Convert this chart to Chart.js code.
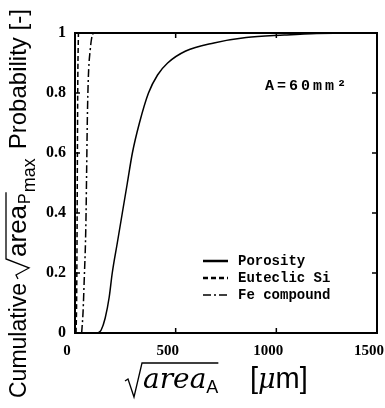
<!DOCTYPE html>
<html>
<head>
<meta charset="utf-8">
<script src="https://cdn.jsdelivr.net/npm/chart.js@4/dist/chart.umd.min.js"></script>
<style>
  html, body { margin: 0; padding: 0; background: #fff; }
  #wrap { width: 385px; height: 408px; position: relative; }
</style>
</head>
<body>
<div id="wrap"><canvas id="c" width="385" height="408"></canvas></div>
<script>
// ---- data ----
const porosityX = [115, 130, 150, 170, 185, 210, 235, 260, 285, 320, 365, 410, 460, 550, 690, 850, 1040, 1200, 1500];
const porosityY = [0, 0.01, 0.05, 0.12, 0.2, 0.3, 0.4, 0.5, 0.6, 0.7, 0.8, 0.86, 0.9, 0.94, 0.967, 0.985, 0.993, 0.998, 1];
const siX = [5, 8, 10, 12, 14, 17];
const siY = [0, 0.1, 0.3, 0.6, 0.85, 1];
const feX = [33, 40, 47, 52, 55, 58, 61, 64, 68, 75, 82, 90];
const feY = [0, 0.07, 0.2, 0.3, 0.4, 0.55, 0.7, 0.8, 0.88, 0.94, 0.98, 1];
const seriesNames = ['Porosity', 'Euteclic Si', 'Fe compound'];
const xTicks = [0, 500, 1000, 1500];
const yTicks = [0, 0.2, 0.4, 0.6, 0.8, 1];
const annotationText = 'A=60mm²';

const toPts = (xs, ys) => xs.map((x, i) => ({ x: x, y: ys[i] }));

const datasets = [
  { label: seriesNames[0], data: toPts(porosityX, porosityY), borderDash: [], legendWidth: 2.5 },
  { label: seriesNames[1], data: toPts(siX, siY), borderDash: [5, 3], legendWidth: 2.5 },
  { label: seriesNames[2], data: toPts(feX, feY), borderDash: [8, 3, 2, 3], legendWidth: 1.5 }
].map(d => Object.assign({
  borderColor: '#000', borderWidth: 1.5, pointRadius: 0, fill: false,
  cubicInterpolationMode: 'monotone', showLine: true
}, d));

const framePlugin = {
  id: 'frame',
  afterDatasetsDraw(chart) {
    const { ctx, chartArea: a, scales } = chart;
    ctx.save();
    ctx.strokeStyle = '#000';
    ctx.lineWidth = 2;
    ctx.strokeRect(a.left, a.top, a.right - a.left, a.bottom - a.top);
    ctx.lineWidth = 1.5;
    ctx.beginPath();
    xTicks.slice(1, -1).forEach(v => {
      const px = scales.x.getPixelForValue(v);
      ctx.moveTo(px, a.bottom); ctx.lineTo(px, a.bottom - 5);
      ctx.moveTo(px, a.top); ctx.lineTo(px, a.top + 5);
    });
    yTicks.slice(1, -1).forEach(v => {
      const py = scales.y.getPixelForValue(v);
      ctx.moveTo(a.left, py); ctx.lineTo(a.left + 5, py);
      ctx.moveTo(a.right, py); ctx.lineTo(a.right - 5, py);
    });
    ctx.stroke();

    // annotation
    ctx.fillStyle = '#000';
    ctx.font = 'bold 15px "Liberation Mono"';
    ctx.textBaseline = 'middle';
    ctx.textAlign = 'left';
    if ('letterSpacing' in ctx) ctx.letterSpacing = '3px';
    ctx.fillText(annotationText, 265, 86);
    if ('letterSpacing' in ctx) ctx.letterSpacing = '0px';

    // legend
    ctx.font = 'bold 14px "Liberation Mono"';
    chart.data.datasets.forEach((ds, i) => {
      const y = 261 + i * 17;
      ctx.beginPath();
      ctx.setLineDash(ds.borderDash || []);
      ctx.lineWidth = ds.legendWidth;
      ctx.moveTo(203, y); ctx.lineTo(228, y);
      ctx.stroke();
      ctx.setLineDash([]);
      ctx.fillText(ds.label, 238, y);
    });
    ctx.restore();
  },
  afterDraw(chart) {
    const ctx = chart.ctx;
    ctx.save();
    ctx.fillStyle = '#000';
    ctx.strokeStyle = '#000';
    ctx.textBaseline = 'alphabetic';
    ctx.textAlign = 'left';

    // ---- y title (rotated) ----
    ctx.translate(26, 398);
    ctx.rotate(-Math.PI / 2);
    let u = 0;
    ctx.font = '23px "Liberation Sans"';
    ctx.fillText('Cumulative', u, 0);
    u += ctx.measureText('Cumulative').width + 4;
    // radical
    ctx.lineWidth = 1.3;
    ctx.beginPath();
    ctx.moveTo(u, -8); ctx.lineTo(u + 4, -10); ctx.lineTo(u + 11, 3); ctx.lineTo(u + 20, -20);
    u += 22;
    ctx.font = '26px "Liberation Sans"';
    ctx.fillText('area', u, 0);
    u += ctx.measureText('area').width + 1;
    ctx.font = '16px "Liberation Sans"';
    ctx.fillText('P', u, 4);
    u += ctx.measureText('P').width + 1;
    ctx.lineTo(u, -20);
    ctx.stroke();
    ctx.font = '18px "Liberation Sans"';
    ctx.fillText('max', u, 9);
    u += ctx.measureText('max').width + 9;
    ctx.font = '24px "Liberation Sans"';
    ctx.fillText('Probability [-]', u, 0);
    ctx.restore();

    // ---- x title ----
    ctx.save();
    ctx.fillStyle = '#000';
    ctx.strokeStyle = '#000';
    ctx.textBaseline = 'alphabetic';
    let x = 125;
    const base = 388;
    ctx.lineWidth = 1.3;
    ctx.beginPath();
    ctx.moveTo(x, 381); ctx.lineTo(x + 3, 379); ctx.lineTo(x + 9, 397); ctx.lineTo(x + 17, 363);
    x += 18;
    ctx.font = 'italic 28px "DejaVu Serif"';
    ctx.fillText('area', x, base);
    x += ctx.measureText('area').width;
    ctx.font = '18px "Liberation Sans"';
    ctx.fillText('A', x, base + 5);
    x += ctx.measureText('A').width;
    ctx.lineTo(x, 363);
    ctx.stroke();
    x = 250;
    ctx.font = '29px "Liberation Sans"';
    ctx.fillText('[', x, base);
    x += ctx.measureText('[').width;
    ctx.font = 'italic 27px "DejaVu Serif"';
    ctx.fillText('μ', x, base);
    x += ctx.measureText('μ').width;
    ctx.font = '29px "Liberation Sans"';
    ctx.fillText('m]', x, base);
    ctx.restore();
  }
};

new Chart(document.getElementById('c'), {
  type: 'scatter',
  data: { datasets: datasets },
  options: {
    responsive: false,
    animation: false,
    layout: { padding: { top: 33, right: 8, left: 0, bottom: 0 } },
    plugins: { legend: { display: false }, tooltip: { enabled: false } },
    scales: {
      x: {
        type: 'linear', min: 0, max: 1500,
        afterBuildTicks: s => { s.ticks = xTicks.map(v => ({ value: v })); },
        grid: { display: false, drawTicks: false },
        border: { display: false },
        ticks: { color: '#000', font: { family: 'Liberation Serif', size: 15, weight: 'bold' }, padding: 9, maxRotation: 0, labelOffset: -8,
          callback: v => String(v) },
        afterFit: s => { s.height = 75; s.paddingLeft = 0; s.paddingRight = 0; }
      },
      y: {
        type: 'linear', min: 0, max: 1,
        afterBuildTicks: s => { s.ticks = yTicks.map(v => ({ value: v })); },
        grid: { display: false, drawTicks: false },
        border: { display: false },
        ticks: { color: '#000', font: { family: 'Liberation Serif', size: 16, weight: 'bold' }, padding: 9,
          callback: v => (v === 0 || v === 1) ? String(v) : v.toFixed(1) },
        afterFit: s => { s.width = 75; s.paddingTop = 0; s.paddingBottom = 0; }
      }
    }
  },
  plugins: [framePlugin]
});
</script>
</body>
</html>
